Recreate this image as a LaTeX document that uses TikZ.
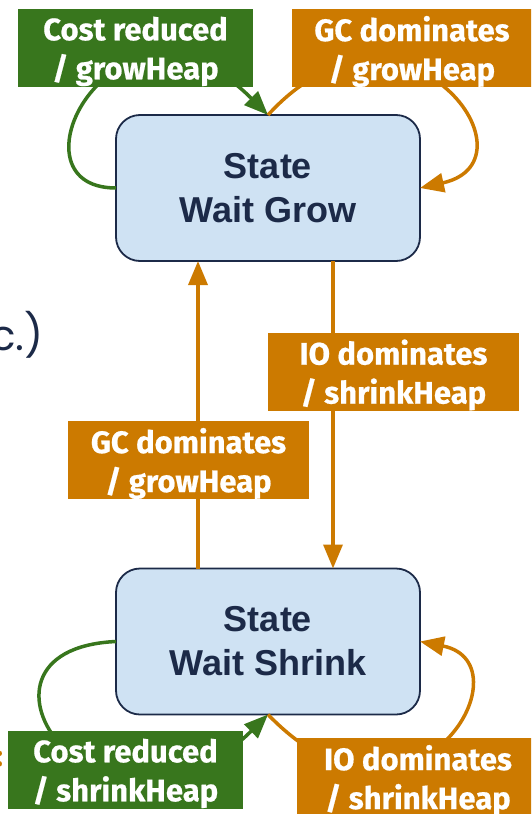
\documentclass[tikz,border=0pt]{standalone}
\usepackage{fontspec}
\setmainfont{Liberation Sans}
\newfontfamily\labelfont{Fira Sans}[BoldFeatures={FakeBold=0.6}]
\newfontfamily\notefont{Poppins}
\usetikzlibrary{arrows.meta}
\definecolor{navy}{HTML}{1C2A48}
\definecolor{paleblue}{HTML}{CFE2F3}
\definecolor{leafgreen}{HTML}{38761D}
\definecolor{amber}{HTML}{CC7A00}
\begin{document}
\begin{tikzpicture}[x=1pt,y=-1pt,
  statebox/.style={draw=navy, line width=1.8pt, fill=paleblue, rounded corners=24pt,
    minimum width=304pt, minimum height=146pt, inner sep=0pt, outer sep=0pt,
    align=center, text=navy, font=\fontsize{36}{44}\selectfont\bfseries},
  tag/.style={inner sep=0pt, outer sep=0pt, minimum height=78pt, align=center,
    text depth=0pt, text=white, font=\labelfont\fontsize{31}{39}\selectfont\bfseries},
  greentag/.style={tag, fill=leafgreen},
  ambertag/.style={tag, fill=amber},
  flow/.style={line width=3.5pt, -{Triangle[length=24pt,width=19pt]}}]
\useasboundingbox (0,0) rectangle (531,814);
\clip (0,0) rectangle (531,814);

% side text of the surrounding slide
\node[anchor=base east, text=navy, font=\notefont\fontsize{42}{42}\selectfont, inner sep=0pt] (note) at (44,350) {c.)};
\node[anchor=base east, text=amber, font=\labelfont\fontsize{30}{30}\selectfont\bfseries, inner sep=0pt] (colon) at (3,766) {:};

% states
\node[statebox] (grow) at (268,188) {State\\Wait Grow};
\node[statebox] (shrink) at (268,641.5) {State\\Wait Shrink};

% self loops (drawn first, labels sit on top)
\draw[flow, leafgreen] (grow.west) .. controls +(-116,0) and +(-150,-150) .. (grow.north);
\draw[flow, amber] (grow.north) .. controls +(132,-145) and +(125,-28) .. (grow.east);
\draw[flow, leafgreen] (shrink.west) .. controls +(-176,8) and +(-168,166) .. (shrink.south);
\draw[flow, amber] (shrink.south) .. controls +(145,150) and +(112,22) .. (shrink.east);

% transitions between the states
\draw[flow, amber] ([xshift=-70pt]shrink.north) -- ([xshift=-70pt]grow.south);
\draw[flow, amber] ([xshift=65pt]grow.south) -- ([xshift=65pt]shrink.north);

% transition labels
\node[greentag, minimum width=235pt] (tl) at (135.5,48) {Cost reduced\\/ growHeap};
\node[ambertag, minimum width=240pt] (tr) at (412,48) {GC dominates\\/ growHeap};
\node[ambertag, minimum width=251pt] (io) at (393.5,371.5) {IO dominates\\/ shrinkHeap};
\node[ambertag, minimum width=241pt] (gc) at (188.5,460) {GC dominates\\/ growHeap};
\node[greentag, minimum width=235pt] (bl) at (125.5,770) {Cost reduced\\/ shrinkHeap};
\node[ambertag, minimum width=242pt] (br) at (418,777) {IO dominates\\/ shrinkHeap};
\end{tikzpicture}
\end{document}
